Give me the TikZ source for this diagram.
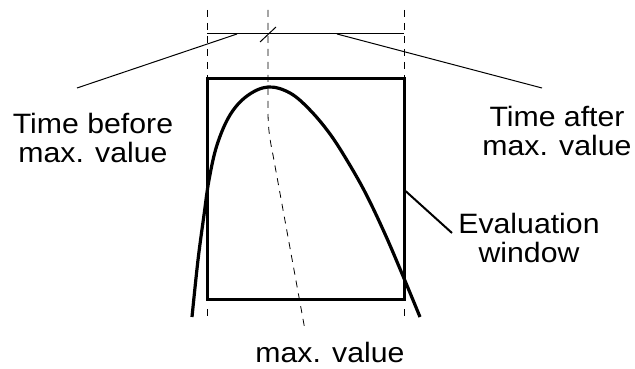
\documentclass[tikz,border=0pt]{standalone}
\usepackage{fontspec}
\setmainfont{Liberation Sans}[FakeStretch=1.08]
\usetikzlibrary{positioning}
\tikzset{
  lbl/.style={font=\fontsize{28}{29}\selectfont,align=center,inner sep=0pt,anchor=base},
  winbox/.style={draw,line width=3pt,minimum width=197pt,minimum height=220pt,inner sep=0pt},
  guide/.style={dash pattern=on 7pt off 6pt,line width=0.8pt},
  leader/.style={line width=1pt},
  response/.style={line width=3.2pt,line join=round}
}
\begin{document}
\begin{tikzpicture}[x=1pt,y=-1pt]
  \useasboundingbox (0,0) rectangle (635,369);
  % Guide lines at window edges and at the maximum
  \draw[guide] (207,10) -- (207,78);
  \draw[guide] (207,309) -- (207,317);
  \draw[guide] (404,10) -- (404,78);
  \draw[guide] (404,309) -- (404,317);
  \draw[guide] (268,10) -- (268,110) .. controls (268,130) and (270,140) .. (273,155) -- (305,330);
  % Dimension line with break mark
  \draw[leader] (207,34) coordinate (dl) -- (404,34) coordinate (dr);
  \draw[leader] (260,42) -- (276,27);
  % Evaluation window
  \node[winbox] (win) at (305.5,189) {};
  % Response curve
  \draw[response] plot[smooth,tension=0.6] coordinates {
    (192,317) (198,260) (204,215) (209,180) (217,145) (230,115) (247,96)
    (268,87) (290,93) (310,110) (330,134) (348,162) (366,194) (385,234)
    (403,276) (420,317)};
  % Labels
  \node[lbl] (before) at (93,162) {Time before\\max. value};
  \node[lbl] (after) at (557,155) {Time after\\max. value};
  \node[lbl] (evalwin) at (529,262) {Evaluation\\window};
  \node[lbl] (maxval) at (330,362) {max. value};
  % Leaders
  \coordinate (tb) at (237,34);
  \coordinate (ta) at (337,34);
  \coordinate (tbend) at (77,88);
  \coordinate (taend) at (542,88);
  \coordinate (ewend) at (452,233);
  \draw[leader] (tb) -- (tbend);
  \draw[leader] (ta) -- (taend);
  \draw[line width=2pt] ([yshift=-2pt]win.east) -- (ewend);
\end{tikzpicture}
\end{document}
